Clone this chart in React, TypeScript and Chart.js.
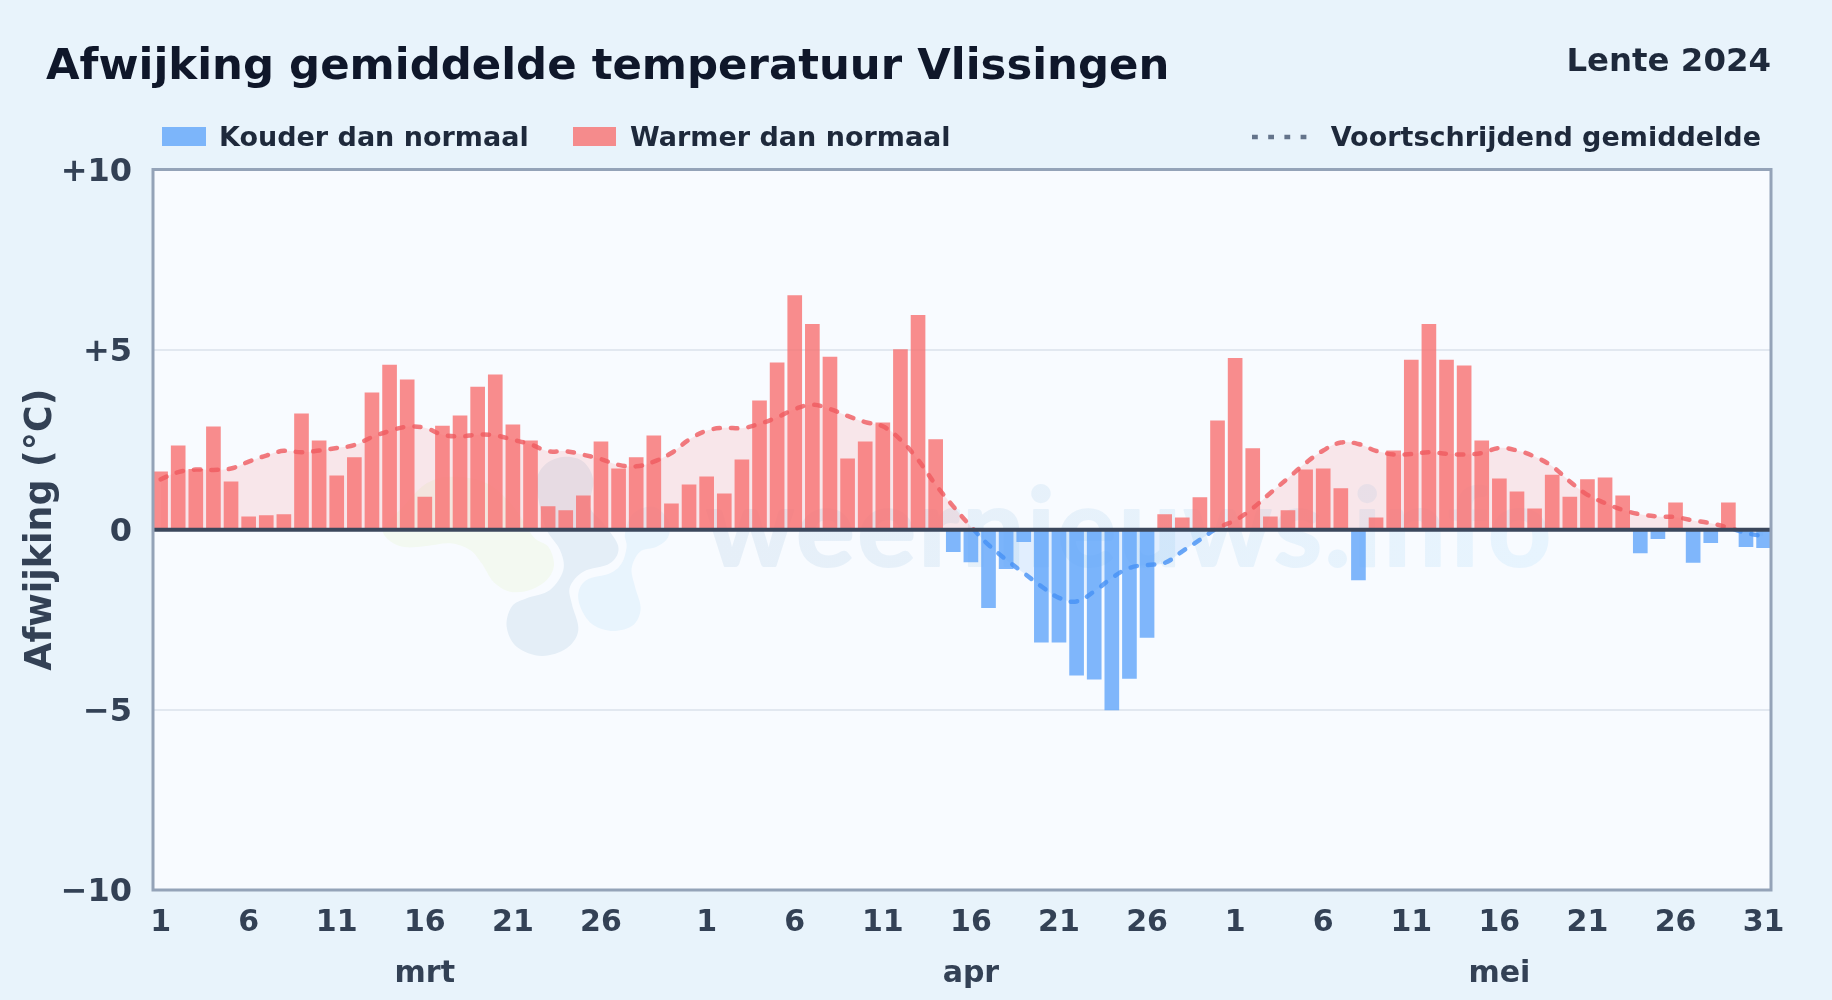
import React, { useEffect, useRef } from "react";
import { Chart, registerables } from "chart.js";

Chart.register(...registerables);

const FONT = '"DejaVu Sans", sans-serif';

const titleText = "Afwijking gemiddelde temperatuur Vlissingen";
const seasonText = "Lente 2024";
const yAxisTitle = "Afwijking (°C)";
const coldLabel = "Kouder dan normaal";
const warmLabel = "Warmer dan normaal";
const meanLabel = "Voortschrijdend gemiddelde";
const watermarkText = "weernieuws.info";

const monthNames = ["mrt", "apr", "mei"];
const monthCentres = [15, 46, 76];
const yTicks = [-10, -5, 0, 5, 10];
const yTickLabels = ["−10", "−5", "0", "+5", "+10"];
const xTickIndexes = [0, 5, 10, 15, 20, 25, 31, 36, 41, 46, 51, 56, 61, 66, 71, 76, 81, 86, 91];
const xTickLabels = ["1", "6", "11", "16", "21", "26", "1", "6", "11", "16", "21", "26", "1", "6", "11", "16", "21", "26", "31"];

const deviationMarch = [
  1.61, 2.33, 1.68, 2.86, 1.33, 0.36, 0.39, 0.42, 3.22, 2.47, 1.5, 2.0, 3.8, 4.57, 4.16, 0.91,
  2.88, 3.16, 3.96, 4.3, 2.91, 2.47, 0.64, 0.53, 0.94, 2.44, 1.69, 2.0, 2.61, 0.72, 1.25,
];
const deviationApril = [
  1.47, 1.0, 1.94, 3.58, 4.63, 6.5, 5.7, 4.79, 1.97, 2.44, 2.97, 5.0, 5.95, 2.5, -0.61, -0.89,
  -2.16, -1.08, -0.33, -3.12, -3.12, -4.04, -4.15, -5.0, -4.13, -2.99, 0.42, 0.33, 0.89, 3.02,
];
const deviationMay = [
  4.76, 2.25, 0.36, 0.53, 1.66, 1.69, 1.14, -1.39, 0.33, 2.19, 4.71, 5.7, 4.71, 4.55, 2.47, 1.41,
  1.05, 0.58, 1.52, 0.91, 1.39, 1.44, 0.94, -0.64, -0.25, 0.75, -0.91, -0.36, 0.75, -0.47, -0.5,
];
const rollingMean = [
  1.4, 1.6, 1.67, 1.66, 1.7, 1.89, 2.06, 2.19, 2.15, 2.2, 2.27, 2.35, 2.57, 2.74, 2.86, 2.83,
  2.64, 2.59, 2.64, 2.62, 2.5, 2.37, 2.18, 2.18, 2.08, 1.96, 1.8, 1.76, 1.89, 2.13, 2.5,
  2.75, 2.83, 2.82, 2.94, 3.12, 3.35, 3.47, 3.35, 3.16, 2.99, 2.87, 2.5, 1.94, 1.25, 0.65, 0.09,
  -0.42, -0.83, -1.2, -1.57, -1.89, -1.99, -1.71, -1.34, -1.06, -0.98, -0.92, -0.6, -0.28, 0.05,
  0.26, 0.6, 1.02, 1.43, 1.85, 2.2, 2.42, 2.38, 2.19, 2.09, 2.1, 2.15, 2.11, 2.09, 2.13, 2.27,
  2.2, 2.03, 1.76, 1.34, 0.97, 0.74, 0.55, 0.43, 0.37, 0.35, 0.26, 0.18, 0.06, -0.09, -0.18,
];

const deviation = [...deviationMarch, ...deviationApril, ...deviationMay];

const COLD = "rgba(96,165,250,0.8)";
const WARM = "rgba(248,113,113,0.8)";

type Pt = [number, number];

const logoGreen: Pt[] = [[40,280],[70,310],[110,322],[170,318],[240,310],[300,330],[335,370],[370,425],[420,455],[480,450],[530,420],[552,375],[535,320],[490,290],[430,200],[350,130],[250,110],[170,130],[100,200],[50,250]];
const logoDark: Pt[] = [[585,50],[640,65],[670,120],[660,200],[700,250],[745,320],[720,370],[640,395],[600,440],[605,490],[625,570],[590,625],[515,648],[440,620],[410,560],[425,500],[470,475],[540,450],[580,390],[570,330],[530,270],[510,200],[500,120],[530,70]];
const logoLight: Pt[] = [[895,290],[860,320],[810,335],[785,385],[795,440],[812,505],[790,555],[730,573],[670,555],[635,510],[625,460],[650,420],[720,400],[755,370],[770,320],[765,280],[790,220],[850,200],[895,240]];

function blob(ctx: CanvasRenderingContext2D, pts: Pt[], fill: string) {
  const p = pts.map(([x, y]) => [370 + x / 3, 440 + y / 3]);
  const n = p.length;
  ctx.beginPath();
  ctx.moveTo(p[0][0], p[0][1]);
  for (let i = 0; i < n; i++) {
    const a = p[(i - 1 + n) % n], b = p[i], c = p[(i + 1) % n], d = p[(i + 2) % n];
    ctx.bezierCurveTo(b[0] + (c[0] - a[0]) / 6, b[1] + (c[1] - a[1]) / 6, c[0] - (d[0] - b[0]) / 6, c[1] - (d[1] - b[1]) / 6, c[0], c[1]);
  }
  ctx.closePath();
  ctx.fillStyle = fill;
  ctx.fill();
}

const decorations = {
  id: "decorations",
  beforeDraw(chart: any) {
    const { ctx, chartArea: a, width, height } = chart;
    ctx.save();
    ctx.fillStyle = "#e8f3fb";
    ctx.fillRect(0, 0, width, height);
    ctx.fillStyle = "#f8fbff";
    ctx.fillRect(a.left, a.top, a.right - a.left, a.bottom - a.top);

    blob(ctx, logoGreen, "rgb(243,249,241)");
    blob(ctx, logoLight, "rgb(232,244,253)");
    blob(ctx, logoDark, "rgb(228,238,247)");

    const g = ctx.createLinearGradient(710, 0, 1550, 0);
    g.addColorStop(0, "rgb(230,239,248)");
    g.addColorStop(1, "rgb(231,244,254)");
    ctx.fillStyle = g;
    ctx.strokeStyle = g;
    ctx.lineWidth = 2;
    ctx.lineJoin = "round";
    ctx.font = `700 110px Lato, ${FONT}`;
    ctx.textAlign = "left";
    ctx.textBaseline = "alphabetic";
    (ctx as any).letterSpacing = "2.6px";
    ctx.fillText(watermarkText, 706, 566);
    ctx.strokeText(watermarkText, 706, 566);
    (ctx as any).letterSpacing = "0px";

    ctx.textBaseline = "alphabetic";
    ctx.fillStyle = "#0f172a";
    ctx.font = `700 43.4px ${FONT}`;
    ctx.fillText(titleText, 46, 79);

    ctx.fillStyle = "#1e293b";
    ctx.textAlign = "right";
    ctx.font = `700 32.4px ${FONT}`;
    ctx.fillText(seasonText, 1771, 71);

    ctx.textAlign = "left";
    ctx.font = `700 27px ${FONT}`;
    ctx.fillStyle = COLD;
    ctx.fillRect(162, 127, 44, 19);
    ctx.fillStyle = WARM;
    ctx.fillRect(573, 127, 43, 19);
    ctx.fillStyle = "#1e293b";
    ctx.fillText(coldLabel, 219, 146);
    ctx.fillText(warmLabel, 630, 146);
    ctx.textAlign = "right";
    ctx.fillText(meanLabel, 1761, 146);

    ctx.strokeStyle = "#64748b";
    ctx.lineWidth = 4.5;
    ctx.setLineDash([5.8, 10.4]);
    ctx.beginPath();
    ctx.moveTo(1252, 137);
    ctx.lineTo(1310, 137);
    ctx.stroke();
    ctx.setLineDash([]);

    const xs = chart.scales.x;
    ctx.fillStyle = "#334155";
    ctx.textAlign = "center";
    ctx.font = `700 30px ${FONT}`;
    monthNames.forEach((m, i) => ctx.fillText(m, xs.getPixelForValue(monthCentres[i]), 982));
    ctx.restore();
  },
  afterDatasetsDraw(chart: any) {
    const { ctx, chartArea: a, scales } = chart;
    const y0 = scales.y.getPixelForValue(0);
    ctx.save();
    ctx.strokeStyle = "#3b475c";
    ctx.lineWidth = 4;
    ctx.beginPath();
    ctx.moveTo(a.left, y0);
    ctx.lineTo(a.right, y0);
    ctx.stroke();
    ctx.strokeStyle = "#94a3b8";
    ctx.lineWidth = 3;
    ctx.strokeRect(a.left, a.top, a.right - a.left, a.bottom - a.top);
    ctx.restore();
  },
};

export default function App() {
  const ref = useRef<HTMLCanvasElement>(null);
  useEffect(() => {
    const chart = new Chart(ref.current as HTMLCanvasElement, {
      type: "bar",
      data: {
        datasets: [
          {
            type: "line",
            label: meanLabel,
            order: 0,
            data: rollingMean.map((y, x) => ({ x, y })),
            borderWidth: 4.5,
            borderDash: [6.5, 11],
            borderCapStyle: "round",
            tension: 0.4,
            pointRadius: 0,
            fill: { target: { value: 0 }, above: "rgba(248,113,113,0.15)", below: "rgba(96,165,250,0.15)" },
            borderColor: (c: any) => {
              const { ctx, chartArea, scales } = c.chart;
              if (!chartArea || !scales.y) return "#ef4444";
              const t = (scales.y.getPixelForValue(0) - chartArea.top) / (chartArea.bottom - chartArea.top);
              const g = ctx.createLinearGradient(0, chartArea.top, 0, chartArea.bottom);
              g.addColorStop(0, "rgba(239,90,95,0.8)");
              g.addColorStop(t, "rgba(239,90,95,0.8)");
              g.addColorStop(t, "rgba(70,145,245,0.8)");
              g.addColorStop(1, "rgba(70,145,245,0.8)");
              return g;
            },
          },
          {
            label: coldLabel,
            order: 1,
            grouped: false,
            barThickness: 14,
            backgroundColor: COLD,
            data: deviation.map((y, x) => ({ x, y })).filter((p) => p.y < 0),
          },
          {
            label: warmLabel,
            order: 1,
            grouped: false,
            barThickness: 14,
            backgroundColor: WARM,
            data: deviation.map((y, x) => ({ x, y })).filter((p) => p.y >= 0),
          },
        ] as any,
      },
      options: {
        animation: false,
        responsive: false,
        devicePixelRatio: 1,
        layout: { padding: { top: 169.5, right: 61, bottom: 0, left: 0 } },
        plugins: {
          legend: { display: false },
          title: { display: false },
          tooltip: { enabled: false },
          filler: { drawTime: "beforeDatasetsDraw" },
        },
        scales: {
          x: {
            type: "linear",
            min: -0.43,
            max: 91.42,
            offset: false,
            grid: { display: false },
            border: { display: false },
            afterBuildTicks: (s: any) => {
              s.ticks = xTickIndexes.map((value) => ({ value }));
            },
            afterFit: (s: any) => {
              s.height = 110;
            },
            ticks: {
              autoSkip: false,
              maxRotation: 0,
              padding: 7,
              color: "#334155",
              font: { family: FONT, weight: "bold", size: 30 },
              callback: (_v: any, i: number) => xTickLabels[i],
            },
          },
          y: {
            min: -10,
            max: 10,
            grid: {
              drawTicks: false,
              color: (c: any) => (Math.abs(c.tick.value) === 5 ? "#e2e8f0" : "rgba(0,0,0,0)"),
              lineWidth: 2,
            },
            border: { display: false },
            afterBuildTicks: (s: any) => {
              s.ticks = yTicks.map((value) => ({ value }));
            },
            afterFit: (s: any) => {
              s.width = 153;
            },
            title: {
              display: true,
              text: yAxisTitle,
              color: "#334155",
              font: { family: FONT, weight: "bold", size: 36.4 },
              padding: { top: 19.5, bottom: 0 },
            },
            ticks: {
              padding: 21,
              labelOffset: 3,
              color: "#334155",
              font: { family: FONT, weight: "bold", size: 32 },
              callback: (_v: any, i: number) => yTickLabels[i],
            },
          },
        },
      } as any,
      plugins: [decorations],
    });
    return () => chart.destroy();
  }, []);
  return (
    <div style={{ position: "absolute", left: 0, top: 0, width: 1832, height: 1000, background: "#e8f3fb" }}>
      <canvas ref={ref} width={1832} height={1000} style={{ display: "block", width: 1832, height: 1000 }} />
    </div>
  );
}
